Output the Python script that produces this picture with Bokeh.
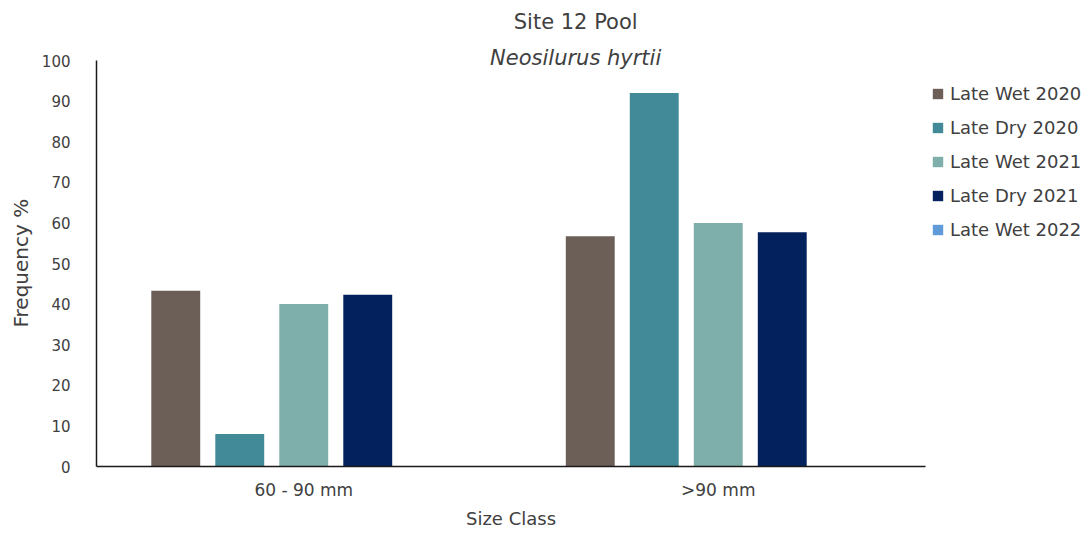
from bokeh.plotting import figure
from bokeh.models import (ColumnDataSource, Range1d, Legend, LegendItem, Label, FixedTicker, Title)
from bokeh.transform import dodge
from bokeh.embed import file_html
from bokeh.resources import INLINE

categories = ["60 - 90 mm", ">90 mm"]
series = ["Late Wet 2020", "Late Dry 2020", "Late Wet 2021", "Late Dry 2021", "Late Wet 2022"]
late_wet_2020 = [43.3, 56.7]
late_dry_2020 = [8.0, 92.0]
late_wet_2021 = [40.0, 60.0]
late_dry_2021 = [42.3, 57.7]
late_wet_2022 = [0.0, 0.0]
colors = ["#6B5F58", "#438A99", "#7FAFAA", "#03215C", "#5F9BD8"]
y_ticks = [0, 10, 20, 30, 40, 50, 60, 70, 80, 90, 100]

values = [late_wet_2020, late_dry_2020, late_wet_2021, late_dry_2021, late_wet_2022]
cat_pos = [i + 0.5 for i in range(len(categories))]
data = {"x": cat_pos}
for s, v in zip(series, values):
    data[s] = v
src = ColumnDataSource(data)

FONT = "DejaVu Sans"
TXT = "#404040"

PX_PER_UNIT = 4.06
FRAME_H = 458
p = figure(x_range=Range1d(0, len(categories)), y_range=Range1d(0, FRAME_H / PX_PER_UNIT),
           output_backend="svg", toolbar_location=None,
           min_border_left=87, min_border_right=0, min_border_top=8, min_border_bottom=60)
p.frame_width = 829
p.frame_height = FRAME_H
p.outline_line_color = None
p.xgrid.grid_line_color = None
p.ygrid.grid_line_color = None

step = 0.1544
renderers = []
for i, s in enumerate(series):
    r = p.vbar(x=dodge("x", (i - 2) * step), top=s, width=0.118,
               source=src, fill_color=colors[i], line_color=None)
    renderers.append(r)

p.yaxis.ticker = FixedTicker(ticks=y_ticks)
p.yaxis.bounds = (0, 100)
p.xaxis.ticker = FixedTicker(ticks=cat_pos)
p.xaxis.major_label_overrides = {c: lab for c, lab in zip(cat_pos, categories)}
for ax in (p.xaxis[0], p.yaxis[0]):
    ax.axis_line_color = "#1a1a1a"
    ax.axis_line_width = 1.5
    ax.major_tick_line_color = None
    ax.minor_tick_line_color = None
    ax.major_label_text_font = FONT
    ax.major_label_text_color = TXT
    ax.axis_label_text_font = FONT
    ax.axis_label_text_color = TXT
    ax.axis_label_text_font_style = "normal"

p.yaxis.major_label_text_font_size = "15px"
p.yaxis.major_label_standoff = 20
p.xaxis.major_label_text_font_size = "17px"
p.xaxis.major_label_standoff = 7
p.xaxis.axis_label = "Size Class"
p.xaxis.axis_label_text_font_size = "18px"
p.xaxis.axis_label_standoff = 5

p.add_layout(Title(text="Frequency %", align="left", offset=139, standoff=12,
                   text_font=FONT, text_font_size="20px", text_font_style="normal",
                   text_color=TXT), "left")

legend = Legend(items=[LegendItem(label=s, renderers=[r]) for s, r in zip(series, renderers)],
                location=(6, 226), padding=0, margin=0, spacing=12,
                glyph_width=13, glyph_height=13, label_height=22, label_standoff=6,
                label_text_font=FONT, label_text_font_size="18px", label_text_color=TXT,
                border_line_alpha=0, background_fill_alpha=0)
p.add_layout(legend, "right")

p.add_layout(Label(x=1.156, y=109.4, text="Site 12 Pool", text_font=FONT, text_font_size="21px",
                   text_color=TXT, text_align="center", text_baseline="middle"))
p.add_layout(Label(x=1.156, y=100.7, text="Neosilurus hyrtii", text_font=FONT, text_font_size="21px",
                   text_font_style="italic", text_color=TXT, text_align="center", text_baseline="middle"))

open("out.html", "w").write(file_html(p, INLINE))
